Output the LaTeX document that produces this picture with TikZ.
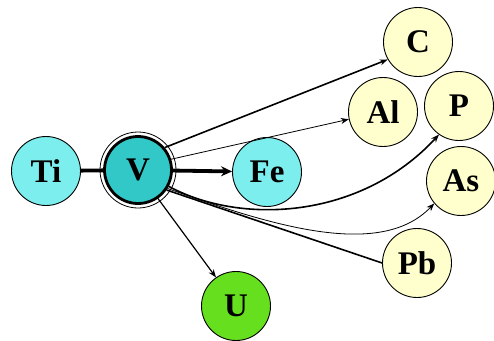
\documentclass[tikz,border=0pt]{standalone}
\usepackage{fontspec}
\setmainfont{Liberation Serif}
\usetikzlibrary{arrows.meta}
\definecolor{cyanlt}{RGB}{125,238,238}
\definecolor{teal2}{RGB}{50,200,200}
\definecolor{creamy}{RGB}{255,255,205}
\definecolor{greenu}{RGB}{102,224,30}
\begin{document}
\begin{tikzpicture}[x=1pt,y=-1pt,
  elem/.style={circle,draw=black,line width=0.9pt,minimum size=69pt,inner sep=0pt,font=\fontsize{33}{33}\selectfont\bfseries},
  conn/.style={draw=black,-{Stealth[length=8pt,width=6pt]}}]
\useasboundingbox (0,0) rectangle (494,340);
\node[elem,fill=cyanlt] (Ti) at (46,171) {Ti};
\node[elem,fill=teal2,line width=2.8pt,minimum size=67pt] (V) at (138,170) {V};
\draw[line width=0.8pt] (V.center) circle (38pt);
\node[elem,fill=cyanlt] (Fe) at (267,172) {Fe};
\node[elem,fill=creamy] (C) at (418,42) {C};
\node[elem,fill=creamy] (Al) at (383,112) {Al};
\node[elem,fill=creamy] (P) at (459,106) {P};
\node[elem,fill=creamy] (As) at (461,181) {As};
\node[elem,fill=creamy] (Pb) at (417,263) {Pb};
\node[elem,fill=greenu] (U) at (236,306) {U};
\draw[line width=3.8pt] (Ti) -- (V);
\draw[conn,line width=3.8pt,-{Stealth[length=11pt,width=10pt]}] (V) -- (Fe);
\draw[conn,line width=1.6pt] (V.40) -- (C.-150);
\draw[conn,line width=0.8pt] (V.18) -- (Al.-168);
\draw[conn,line width=1.6pt] (V.-28) .. controls (240,225) and (360,220) .. (P.-125);
\draw[conn,line width=0.8pt] (V.-32) .. controls (270,225) and (380,260) .. (As.-140);
\draw[line width=1.6pt] (V.-35) -- (Pb.west);
\draw[conn,line width=1.2pt] (V.-55) -- (U.125);
\end{tikzpicture}
\end{document}
